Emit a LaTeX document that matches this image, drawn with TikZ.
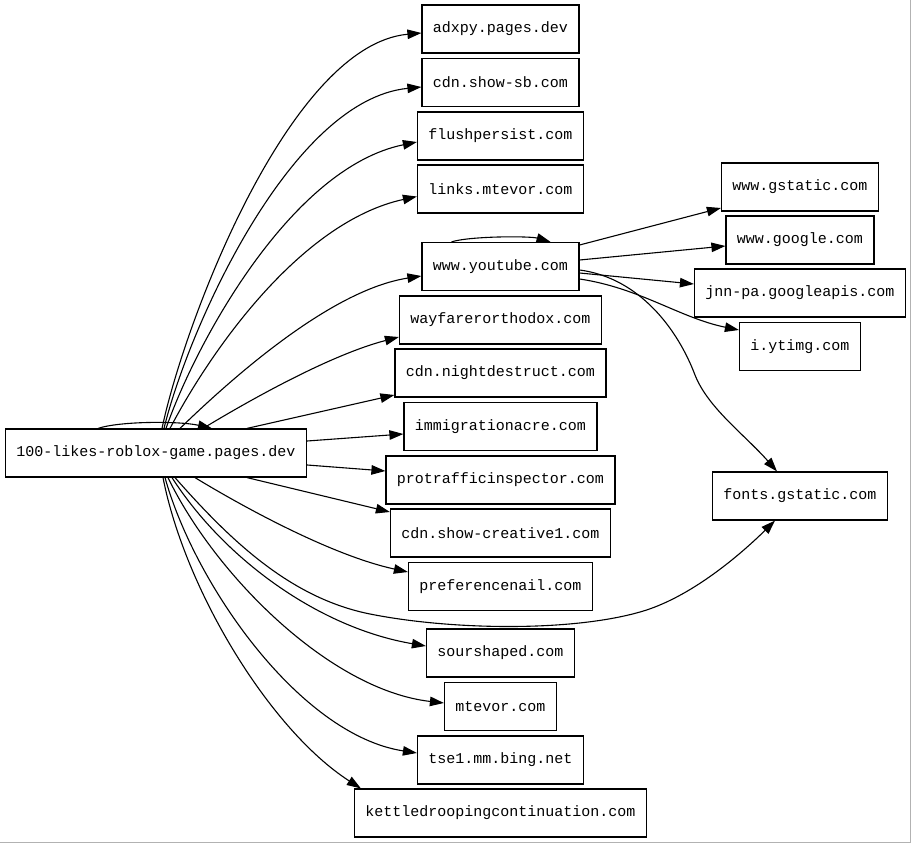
\documentclass[tikz,border=0pt]{standalone}
\usepackage{fontspec}
\setmonofont{Liberation Mono}
\usetikzlibrary{arrows.meta}
\tikzset{
  host/.style={draw=black, line width=1.2pt, rectangle, minimum height=48pt, inner xsep=11pt, inner ysep=0pt, font=\ttfamily\fontsize{15}{18}\selectfont, text=black},
  edge/.style={draw=black, line width=1.1pt, -{Triangle[length=14pt,width=9.5pt]}},
}
\begin{document}
\begin{tikzpicture}[x=1pt,y=-1pt]
\useasboundingbox (0,0) rectangle (911,843);
\fill[white] (0,0) rectangle (911,843);
\draw[gray!60, line width=1.2pt] (910.4,0) -- (910.4,842.4) -- (0,842.4);

% source
\node[host] (src) at (156,453) {100-likes-roblox-game.pages.dev};

% middle column
\node[host] (adxpy) at (500.5,29) {adxpy.pages.dev};
\node[host] (showsb) at (500.5,82.5) {cdn.show-sb.com};
\node[host] (flush) at (500.5,136) {flushpersist.com};
\node[host] (links) at (500.5,189) {links.mtevor.com};
\node[host] (yt) at (500.5,266.5) {www.youtube.com};
\node[host] (way) at (500.5,320) {wayfarerorthodox.com};
\node[host] (night) at (500.5,373) {cdn.nightdestruct.com};
\node[host] (immig) at (500.5,426.5) {immigrationacre.com};
\node[host] (protr) at (500.5,480) {protrafficinspector.com};
\node[host] (creat) at (500.5,533) {cdn.show-creative1.com};
\node[host] (pref) at (500.5,586.5) {preferencenail.com};
\node[host] (sour) at (500.5,653) {sourshaped.com};
\node[host] (mtevor) at (500.5,706.5) {mtevor.com};
\node[host] (tse) at (500.5,760) {tse1.mm.bing.net};
\node[host] (kettle) at (500.5,813) {kettledroopingcontinuation.com};

% right column
\node[host] (gstatic) at (800,187) {www.gstatic.com};
\node[host] (google) at (800,240) {www.google.com};
\node[host] (jnn) at (800,293) {jnn-pa.googleapis.com};
\node[host] (ytimg) at (800,346.5) {i.ytimg.com};
\node[host] (fonts) at (800,496) {fonts.gstatic.com};

% self loops
\draw[edge] ([xshift=-58pt]src.north) .. controls (120,421) and (180,421) .. ([xshift=56pt]src.north);
\draw[edge] ([xshift=-49pt]yt.north) .. controls (470,236) and (530,236) .. ([xshift=50pt]yt.north);

% source -> upper targets
\draw[edge] ([xshift=6pt]src.north) .. controls (185,320) and (290,45) .. ([yshift=-4pt]adxpy.west);
\draw[edge] ([xshift=8pt]src.north) .. controls (188,330) and (290,100) .. ([yshift=-4.5pt]showsb.west);
\draw[edge] ([xshift=10pt]src.north) .. controls (195,345) and (290,168) .. ([yshift=-6pt]flush.west);
\draw[edge] ([xshift=14pt]src.north) .. controls (210,352) and (300,222) .. ([yshift=-7.5pt]links.west);
\draw[edge] ([xshift=24pt]src.north) .. controls (230,380) and (330,290) .. ([yshift=-9.5pt]yt.west);
\draw[edge] ([xshift=47pt]src.north) .. controls (250,400) and (330,355) .. ([yshift=-17pt]way.west);
\draw[edge] ([xshift=91pt]src.north) -- ([yshift=-22pt]night.west);
\draw[edge] ([yshift=12pt]src.east) -- ([yshift=-7.5pt]immig.west);

% source -> lower targets
\draw[edge] ([yshift=-12pt]src.east) -- ([yshift=9pt]protr.west);
\draw[edge] ([xshift=91pt]src.south) -- ([yshift=21pt]creat.west);
\draw[edge] ([xshift=39pt]src.south) .. controls (240,505) and (330,555) .. ([yshift=14.5pt]pref.west);
\draw[edge] ([xshift=19pt]src.south) .. controls (230,540) and (290,598) .. (370,614)
  .. controls (450,630) and (570,632) .. (640,612)
  .. controls (690,598) and (740,555) .. ([xshift=-25pt]fonts.south);
\draw[edge] ([xshift=16pt]src.south) .. controls (225,560) and (320,628) .. ([yshift=7pt]sour.west);
\draw[edge] ([xshift=12pt]src.south) .. controls (215,575) and (330,690) .. ([yshift=3.5pt]mtevor.west);
\draw[edge] ([xshift=9pt]src.south) .. controls (195,585) and (300,735) .. ([yshift=7pt]tse.west);
\draw[edge] ([xshift=7pt]src.south) .. controls (185,590) and (270,730) .. ([xshift=7pt]kettle.north west);

% youtube -> right column
\draw[edge] ([yshift=21.5pt]yt.east) -- ([yshift=-21pt]gstatic.west);
\draw[edge] ([yshift=6.5pt]yt.east) -- ([yshift=-6pt]google.west);
\draw[edge] ([yshift=-6.5pt]yt.east) -- ([yshift=9pt]jnn.west);
\draw[edge] ([yshift=-12.5pt]yt.east) .. controls (640,288) and (680,318) .. ([yshift=16.5pt]ytimg.west);
\draw[edge] ([yshift=-3.5pt]yt.east) .. controls (640,278) and (678,330) .. (695,375)
  .. controls (708,408) and (745,435) .. ([xshift=-23pt]fonts.north);
\end{tikzpicture}
\end{document}
